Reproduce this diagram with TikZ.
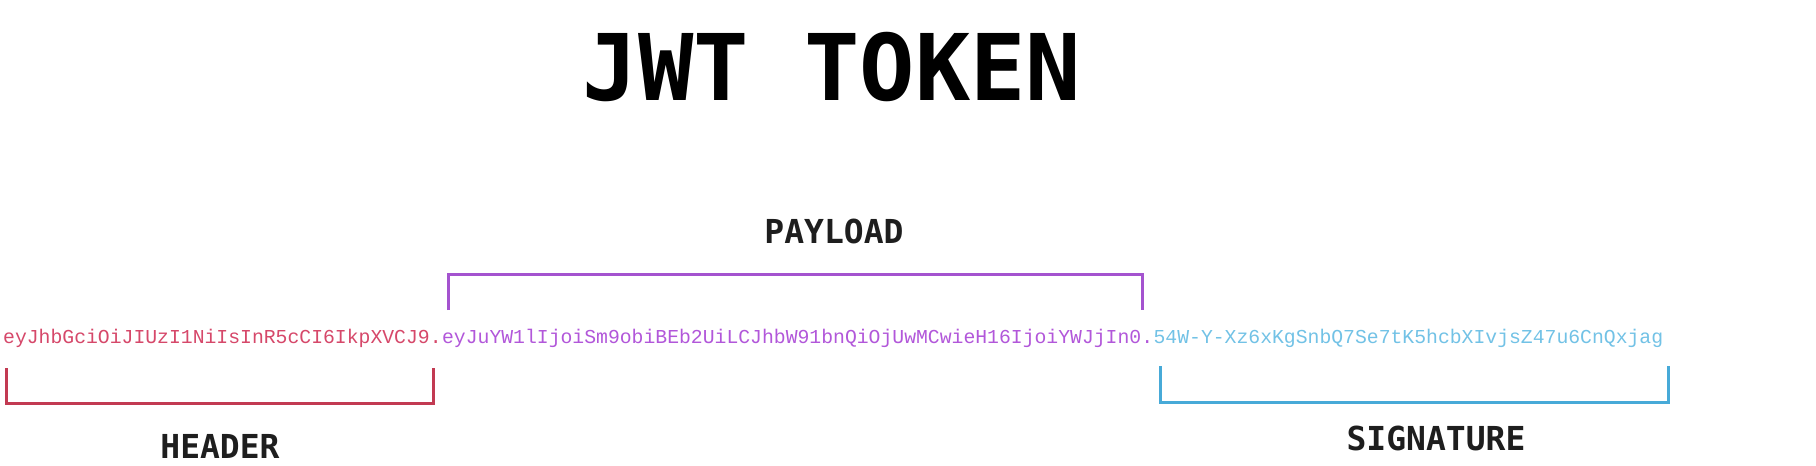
\documentclass[tikz,border=0pt]{standalone}
\usepackage{fontspec}
\newfontfamily\titlefont{DejaVu Sans Mono}[BoldFont=DejaVu Sans Mono Bold]
\newfontfamily\tokfont{Liberation Mono}
\definecolor{hdrtext}{HTML}{D6486A}
\definecolor{hdrline}{HTML}{C23A52}
\definecolor{paytext}{HTML}{B257DA}
\definecolor{payline}{HTML}{A453CF}
\definecolor{sigtext}{HTML}{72C2E6}
\definecolor{sigline}{HTML}{47AAD8}
\definecolor{labtext}{HTML}{1E1E1E}
\tikzset{
  tok/.style={inner sep=0pt, font=\tokfont\fontsize{19.75}{24}\selectfont, anchor=base west},
  lab/.style={inner sep=0pt, text=labtext, font=\titlefont\bfseries\fontsize{33}{40}\selectfont},
  brk/.style={line width=3pt, line cap=butt, line join=miter}
}
\begin{document}
\begin{tikzpicture}[x=1pt,y=-1pt]
\fill[white] (0,0) rectangle (1816,466);
\useasboundingbox (0,0) rectangle (1816,466);
% title
\node[inner sep=0pt, font=\titlefont\bfseries\fontsize{92}{100}\selectfont, text=black] (title) at (832,67) {JWT TOKEN};
% token
\node[tok, text=hdrtext] (hdr) at (3,343) {eyJhbGciOiJIUzI1NiIsInR5cCI6IkpXVCJ9.};
\node[tok, text=paytext] (pay) at (hdr.base east) {eyJuYW1lIjoiSm9obiBEb2UiLCJhbW91bnQiOjUwMCwieH16IjoiYWJjIn0.};
\node[tok, text=sigtext] (sig) at (pay.base east) {54W-Y-Xz6xKgSnbQ7Se7tK5hcbXIvjsZ47u6CnQxjag};
% labels
\node[lab] (plab) at (834,231) {PAYLOAD};
\node[lab] (hlab) at (220,446) {HEADER};
\node[lab] (slab) at (1436,438) {SIGNATURE};
% bracket corners
\coordinate (h1) at (6,368);
\coordinate (h2) at (6,403);
\coordinate (h3) at (433,403);
\coordinate (h4) at (433,368);
\coordinate (p1) at (448,310);
\coordinate (p2) at (448,274);
\coordinate (p3) at (1142,274);
\coordinate (p4) at (1142,310);
\coordinate (s1) at (1160,366);
\coordinate (s2) at (1160,402);
\coordinate (s3) at (1668,402);
\coordinate (s4) at (1668,366);
\draw[brk, hdrline] (h1) -- (h2) -- (h3) -- (h4);
\draw[brk, payline] (p1) -- (p2) -- (p3) -- (p4);
\draw[brk, sigline] (s1) -- (s2) -- (s3) -- (s4);
\end{tikzpicture}
\end{document}
